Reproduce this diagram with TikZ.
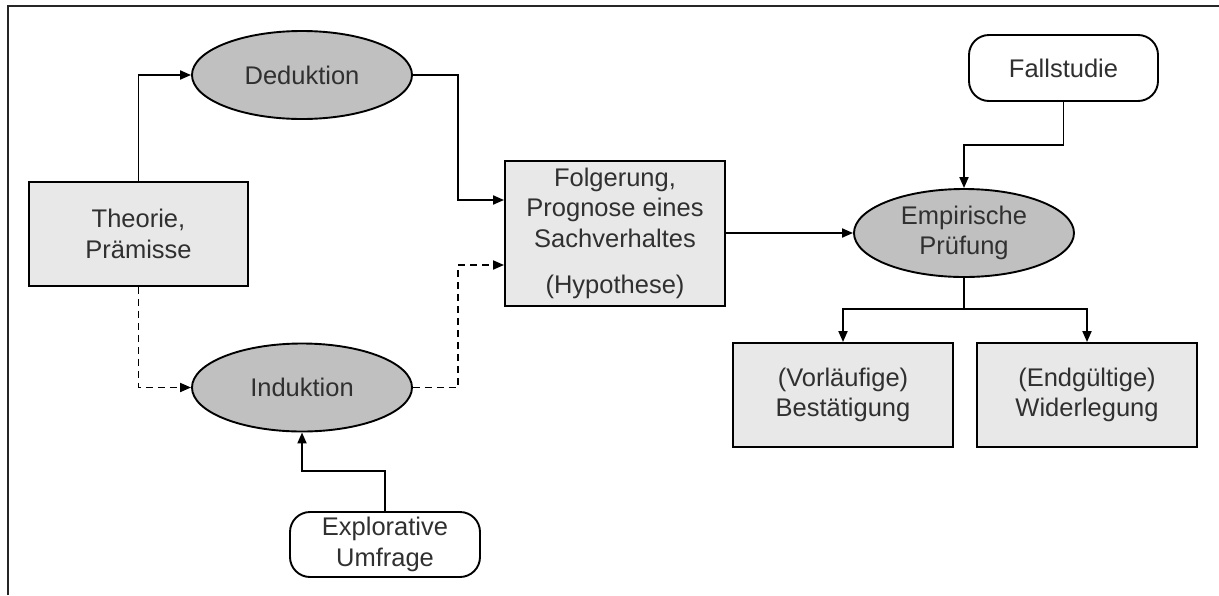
\documentclass[tikz,border=0pt]{standalone}
\usepackage{fontspec}
\setmainfont{Liberation Sans}
\usetikzlibrary{arrows.meta,shapes.geometric}
\definecolor{boxfill}{HTML}{E8E8E8}
\definecolor{ellfill}{HTML}{C0C0C0}
\definecolor{txt}{HTML}{303030}
\begin{document}
\begin{tikzpicture}[x=1pt,y=-1pt,
  every node/.style={font=\fontsize{25.5}{30.5}\selectfont, text=txt, align=center, inner sep=0pt, line width=1.9pt},
  sqbox/.style={draw=black, fill=boxfill, rectangle},
  ell/.style={draw=black, fill=ellfill, ellipse, minimum width=220pt, minimum height=88pt},
  rbox/.style={draw=black, fill=white, rectangle, rounded corners=20pt},
  conn/.style={line width=1.9pt, draw=black},
  arr/.style={conn, -{Triangle[length=11pt,width=9pt]}},
  darr/.style={arr, dash pattern=on 7pt off 5pt}]
\useasboundingbox (0,0) rectangle (1219,595);
\draw[line width=2pt, draw=black!85] (8,595) -- (8,6) -- (1219,6);

\node[sqbox, minimum width=219pt, minimum height=104pt] (theorie) at (138.5,234) {Theorie,\\Prämisse};
\node[sqbox, minimum width=220pt, minimum height=145pt] (folg) at (615,233.5) {Folgerung,\\Prognose eines\\Sachverhaltes\\[16pt](Hypothese)};
\node[sqbox, minimum width=220pt, minimum height=104pt] (vor) at (843,395) {(Vorläufige)\\Bestätigung};
\node[sqbox, minimum width=220pt, minimum height=104pt] (wid) at (1087,395) {(Endgültige)\\Widerlegung};
\node[ell] (ded) at (302,75) {Deduktion};
\node[ell] (ind) at (302,387.5) {Induktion};
\node[ell] (emp) at (964,233) {Empirische\\Prüfung};
\node[rbox, minimum width=189pt, minimum height=66pt] (fall) at (1063.5,68) {Fallstudie};
\node[rbox, minimum width=190pt, minimum height=65pt] (expl) at (385,544.5) {Explorative\\Umfrage};

\draw[arr] (theorie.north) |- (ded.west);
\draw[darr] (theorie.south) |- (ind.west);
\draw[arr] (ded.east) -- ++(45,0) |- ([yshift=33.5pt]folg.west);
\draw[darr] (ind.east) -- ++(45,0) |- ([yshift=-31.5pt]folg.west);
\draw[arr] (folg.east |- emp.west) -- (emp.west);
\draw[arr] (fall.south) -- ++(0,43) -| (emp.north);
\coordinate (br) at (964,309);
\draw[conn] (emp.south) -- (br);
\draw[arr] (br) -| (vor.north);
\draw[arr] (br) -| (wid.north);
\draw[arr] (expl.north) -- ++(0,-40) -| (ind.south);
\end{tikzpicture}
\end{document}
